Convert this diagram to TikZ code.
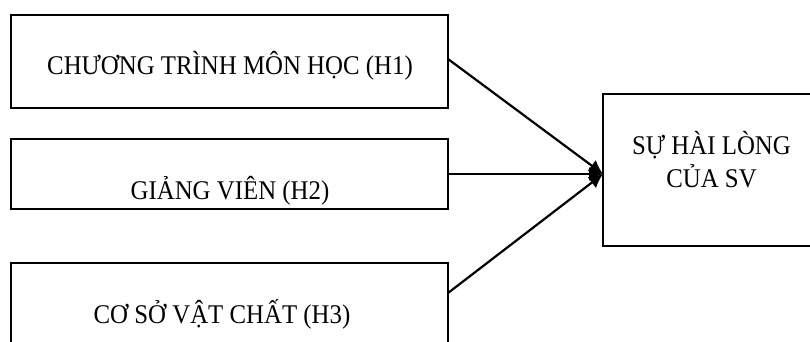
\documentclass[tikz,border=0pt]{standalone}
\usepackage{fontspec}
\setmainfont{Liberation Serif}
\usetikzlibrary{arrows.meta}
\newcommand\narrowtext[1]{\scalebox{0.92}[1]{#1}}
\begin{document}
\begin{tikzpicture}[x=1pt,y=-1pt,
 box/.style={draw,line width=1.6pt,inner sep=0pt,outer sep=0pt,rectangle},
 lbl/.style={anchor=base,inner sep=0pt,font=\fontsize{27}{32}\selectfont},
 conn/.style={line width=2.2pt,-{Latex[length=14pt,width=14pt]}}]
\useasboundingbox (0,0) rectangle (810,342);
\clip (0,0) rectangle (810,342);
\node[box,minimum width=437pt,minimum height=93pt] (b1) at (229.5,61.5) {};
\node[box,minimum width=437pt,minimum height=70pt] (b2) at (229.5,174) {};
\node[box,minimum width=437pt,minimum height=107pt] (b3) at (229.5,316.5) {};
\node[box,minimum width=218pt,minimum height=152pt] (b4) at (712,170) {};
\node[lbl] (t1) at (230,75) {\narrowtext{CHƯƠNG TRÌNH MÔN HỌC (H1)}};
\node[lbl] (t2) at (230,199) {\narrowtext{GIẢNG VIÊN (H2)}};
\node[lbl] (t3) at (222,323) {\narrowtext{CƠ SỞ VẬT CHẤT (H3)}};
\node[lbl] (t4a) at (711.5,154) {\narrowtext{SỰ HÀI LÒNG}};
\node[lbl] (t4b) at (711.5,187) {\narrowtext{CỦA SV}};
\coordinate (tip) at ([yshift=-4pt]b4.west);
\draw[conn] ([yshift=2.5pt]b1.east) -- (tip);
\draw[conn] ([yshift=0pt]b2.east) -- (tip);
\draw[conn] ([yshift=23.5pt]b3.east) -- (tip);
\end{tikzpicture}
\end{document}
